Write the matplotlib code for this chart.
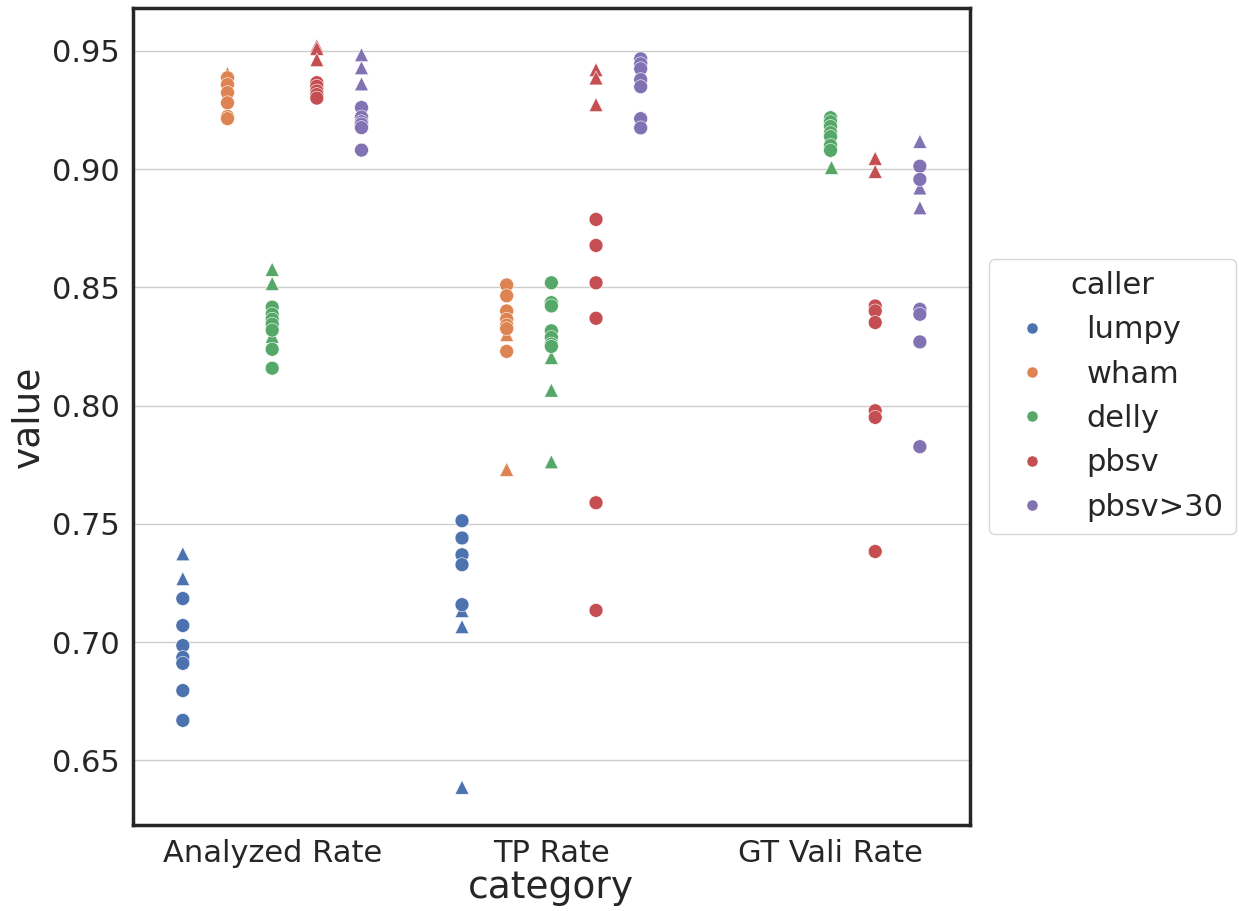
import pandas as pd
import seaborn as sns
import matplotlib.pyplot as plt

categories = ["Analyzed Rate", "TP Rate", "GT Vali Rate"]
callers = ["lumpy", "wham", "delly", "pbsv", "pbsv>30"]

# circle points (one list per caller, per category)
analyzed_circ = {
    "lumpy": [0.7184, 0.707, 0.6985, 0.6935, 0.691, 0.6795, 0.6669],
    "wham": [0.9386, 0.9357, 0.9323, 0.928, 0.9222, 0.9213],
    "delly": [0.8416, 0.8386, 0.8365, 0.8344, 0.8319, 0.8238, 0.8158],
    "pbsv": [0.9365, 0.935, 0.933, 0.9315, 0.930],
    "pbsv>30": [0.926, 0.922, 0.920, 0.919, 0.9175, 0.908],
}
tp_circ = {
    "lumpy": [0.7513, 0.744, 0.7369, 0.7327, 0.7158],
    "wham": [0.851, 0.8464, 0.840, 0.8365, 0.834, 0.8325, 0.8229],
    "delly": [0.8519, 0.8435, 0.8421, 0.8316, 0.8288, 0.826, 0.825],
    "pbsv": [0.8787, 0.8677, 0.8519, 0.8369, 0.7589, 0.7134],
    "pbsv>30": [0.9466, 0.9445, 0.9424, 0.9378, 0.9348, 0.9213, 0.9174],
}
gt_circ = {
    "delly": [0.9217, 0.920, 0.918, 0.9154, 0.9137, 0.910, 0.9079],
    "pbsv": [0.8421, 0.840, 0.8351, 0.7978, 0.795, 0.7383],
    "pbsv>30": [0.9012, 0.8956, 0.8407, 0.8386, 0.8269, 0.7826],
}

# triangle points
analyzed_tri = {
    "lumpy": [0.7373, 0.7268],
    "wham": [0.9407],
    "delly": [0.8576, 0.8516, 0.8293],
    "pbsv": [0.952, 0.951, 0.9462],
    "pbsv>30": [0.9483, 0.9428, 0.936],
}
tp_tri = {
    "lumpy": [0.7133, 0.7065, 0.6386],
    "wham": [0.830, 0.773],
    "delly": [0.8203, 0.8065, 0.7762],
    "pbsv": [0.942, 0.9385, 0.9272],
    "pbsv>30": [0.9475],
}
gt_tri = {
    "delly": [0.901],
    "pbsv": [0.9045, 0.899],
    "pbsv>30": [0.9117, 0.892, 0.8836],
}


def to_frame(groups):
    rows = []
    for cat, d in zip(categories, groups):
        for caller, vals in d.items():
            for v in vals:
                rows.append({"category": cat, "caller": caller, "value": v})
    return pd.DataFrame(rows)


df_circ = to_frame([analyzed_circ, tp_circ, gt_circ])
df_tri = to_frame([analyzed_tri, tp_tri, gt_tri])

sns.set_theme(style="white", palette="deep")

fig = plt.figure(figsize=(12.39, 9.11), dpi=100)
ax = fig.add_axes([0.107, 0.094, 0.676, 0.897])

sns.stripplot(
    data=df_tri, x="category", y="value", hue="caller",
    order=categories, hue_order=callers, dodge=True, jitter=False,
    marker="^", size=10, linewidth=0.4, edgecolor="white",
    legend=False, ax=ax
)
sns.stripplot(
    data=df_circ, x="category", y="value", hue="caller",
    order=categories, hue_order=callers, dodge=True, jitter=False,
    marker="o", size=10, linewidth=0.4, edgecolor="white",
    ax=ax
)

ax.set_ylim(0.6225, 0.968)
ax.set_yticks([0.65, 0.70, 0.75, 0.80, 0.85, 0.90, 0.95])
ax.set_yticklabels(["0.65", "0.70", "0.75", "0.80", "0.85", "0.90", "0.95"])
ax.grid(axis="y", color="#cccccc", linewidth=1)
ax.set_axisbelow(True)

for s in ax.spines.values():
    s.set_color("#262626")
    s.set_linewidth(2.5)

ax.tick_params(labelsize=22)
ax.set_xlabel("category", fontsize=27, labelpad=2)
ax.set_ylabel("value", fontsize=27)

leg = ax.legend(
    title="caller", loc="center left", bbox_to_anchor=(1.004, 0.525),
    fontsize=22, title_fontsize=22, markerscale=0.8
)

fig.savefig("out.png")
